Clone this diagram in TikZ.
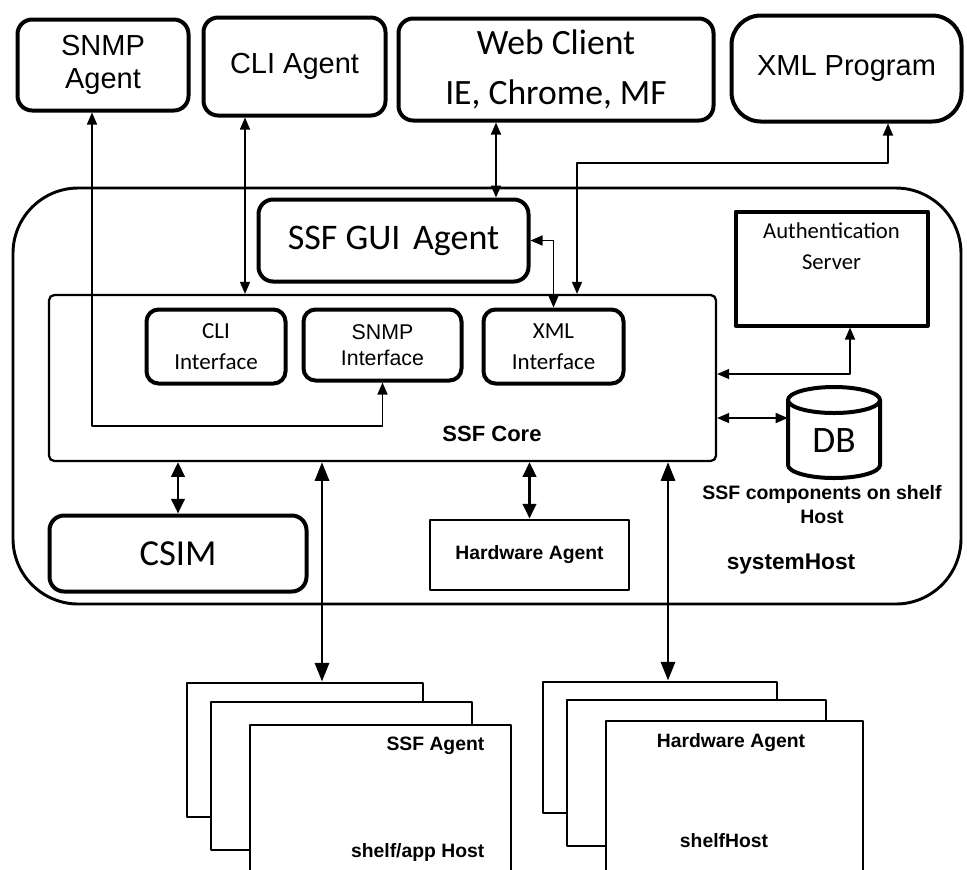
\documentclass[tikz,border=0pt]{standalone}
\usepackage{fontspec}
\setmainfont{Carlito}
\newfontfamily\arial{Liberation Sans}
\usetikzlibrary{arrows.meta}
\begin{document}
\begin{tikzpicture}[x=0.75pt, y=-0.75pt, line join=round, >={Triangle[length=9pt,width=7.5pt]},
	wh/.style 2 args={minimum width=#1*0.75pt, minimum height=#2*0.75pt},
	box/.style={draw, line width=3pt, rounded corners=11pt, align=center, inner sep=0pt},
	sheet/.style={draw, fill=white, line width=2.2pt},
	link/.style={<->, line width=1.1pt},
	bus/.style={{Triangle[length=11pt,width=10pt]}-{Triangle[length=11pt,width=10pt]}, line width=2.2pt},
	bigbus/.style={{Triangle[length=14pt,width=10.5pt]}-{Triangle[length=14pt,width=10.5pt]}, line width=2.2pt},
	bold/.style={font=\arial\bfseries\fontsize{#1}{18}\selectfont, align=center}]
	\useasboundingbox (0,0) rectangle (967,869);
	% clients on top
	\node[box, wh={171}{91}, font=\arial\fontsize{21.75}{25}\selectfont] (snmpagent) at (103,65) {SNMP\\Agent};
	\node[box, wh={182}{98}, font=\arial\fontsize{21.75}{25}\selectfont] (cliagent) at (294.5,66.5) {CLI Agent};
	\node[box, wh={315}{102}, font=\fontsize{26.7}{37}\selectfont] (webclient) at (556,69.5) {Web Client\\IE, Chrome, MF};
	\node[box, rounded corners=22pt, wh={230}{106}, font=\arial\fontsize{21.75}{25}\selectfont] (xmlprog) at (846.5,68.5) {XML Program};
	% system host
	\node[draw, line width=2.2pt, rounded corners=49pt, wh={948}{416}] (syshost) at (487,396) {};
	\node[box, wh={270}{82}, font=\fontsize{27}{32}\selectfont] (guiagent) at (393.5,240.5) {SSF GUI\hspace{0.35em}Agent};
	\node[draw, line width=1.7pt, rounded corners=4pt, wh={667}{166}] (ssfcore) at (382.5,378) {};
	\node[box, rounded corners=9pt, wh={139}{74}, font=\fontsize{17.25}{23}\selectfont] (cliif) at (216,346.5) {CLI\\Interface};
	\node[box, rounded corners=9pt, wh={158}{71}, font=\arial\fontsize{16}{20}\selectfont] (snmpif) at (382.5,345) {SNMP\\Interface};
	\node[box, rounded corners=9pt, wh={140}{74}, font=\fontsize{17.25}{23}\selectfont] (xmlif) at (553.5,346.5) {XML\\Interface};
	\node[bold=16.5] (coretext) at (492,434) {SSF Core};
	\node[draw, line width=3pt, wh={192}{114}] (auth) at (831.5,268.5) {};
	\node[font=\fontsize{17}{23}\selectfont, align=center] (authtext) at (831.5,246) {Authentication\\Server};
	% database
	\node[wh={92}{91}, inner sep=0pt] (db) at (834,432.5) {};
	\draw[line width=3pt] (788,400) -- (788,465) arc[start angle=180, end angle=360, x radius=34.5pt, y radius=9.75pt] -- (880,400);
	\draw[line width=3pt] (834,400) ellipse[x radius=34.5pt, y radius=9.75pt];
	\node[font=\fontsize{28}{30}\selectfont] (dbtext) at (834,441) {DB};
	\node[bold=14.6] (dblabel) at (822,505) {SSF components on shelf\\Host};
	\node[box, wh={257}{76}, font=\fontsize{27.5}{30}\selectfont] (csim) at (178,553.5) {CSIM};
	\node[draw, line width=2.2pt, wh={199}{70}, bold=14.5] (hwagent) at (529.5,555) {Hardware Agent};
	\node[bold=17] (systext) at (791,564) {systemHost};
	% hosts below
	\node[sheet, wh={236}{134}] (agentback) at (305,750) {};
	\node[sheet, wh={261}{148}] (agentmid) at (341.5,776) {};
	\node[sheet, wh={261}{150}] (agentfront) at (380.5,800) {};
	\node[bold=14.5, anchor=east] (ssfagent) at (489,746) {SSF Agent};
	\node[bold=14.5, anchor=east] (apphost) at (489,852) {shelf/app Host};
	\node[sheet, wh={234}{131}] (hwback) at (660,747.5) {};
	\node[sheet, wh={259}{146}] (hwmid) at (696.5,773) {};
	\node[sheet, wh={257}{154}] (hwfront) at (734.5,798) {};
	\node[bold=14.5] (hwtext) at (731,743) {Hardware Agent};
	\node[bold=14.5] (shelfhost) at (724,841) {shelfHost};
	% connectors
	\coordinate (snmpturn) at (92,426);
	\coordinate (clix) at (245,0);
	\coordinate (webx) at (496,0);
	\coordinate (xmlturn) at (577,163);
	\coordinate (xmlx) at (888,0);
	\coordinate (authturn) at (850,374);
	\coordinate (dby) at (0,418);
	\coordinate (agentx) at (322,0);
	\coordinate (hostx) at (668,0);
	\draw[link] (snmpagent.south -| snmpturn) -- (snmpturn) -| (snmpif.south);
	\draw[link] (cliagent.south -| clix) -- (ssfcore.north -| clix);
	\draw[link] (webclient.south -| webx) -- (guiagent.north -| webx);
	\draw[link] (xmlprog.south -| xmlx) |- (xmlturn) -- (ssfcore.north -| xmlturn);
	\draw[link] (guiagent.east) -| (xmlif.north);
	\draw[link] (ssfcore.east |- authturn) -- (authturn) -- (auth.south -| authturn);
	\draw[link] (ssfcore.east |- dby) -- (db.west |- dby);
	\draw[bus] (ssfcore.south -| csim) -- (csim.north);
	\draw[bus] (ssfcore.south -| hwagent) -- (hwagent.north);
	\draw[bigbus] (ssfcore.south -| agentx) -- (agentback.north -| agentx);
	\draw[bigbus] (ssfcore.south -| hostx) -- (hwback.north -| hostx);
\end{tikzpicture}
\end{document}
